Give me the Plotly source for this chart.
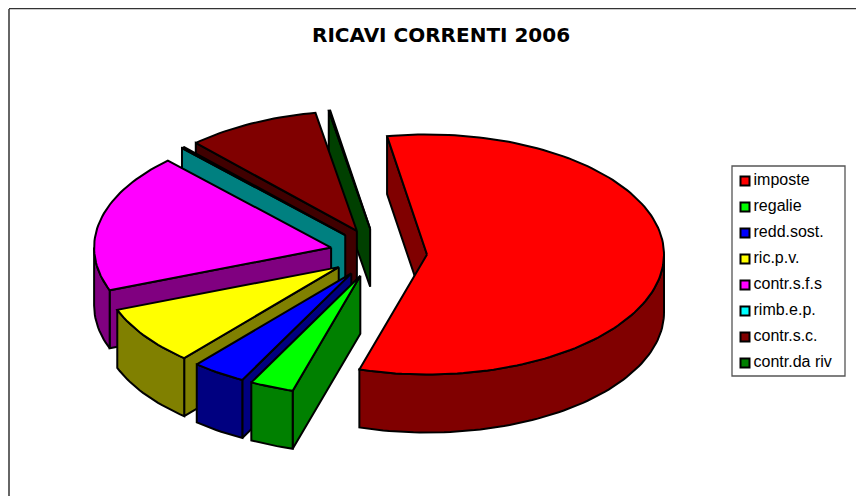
import math
import plotly.graph_objects as go

categories = ["imposte", "regalie", "redd.sost.", "ric.p.v.", "contr.s.f.s", "rimb.e.p.", "contr.s.c.", "contr.da riv"]
values = [57.3, 3.0, 3.7, 7.9, 18.7, 0.2, 9.1, 0.1]
top_colors = ["#ff0000", "#00ff00", "#0000ff", "#ffff00", "#ff00ff", "#008080", "#800000", "#004000"]
wall_colors = ["#800000", "#008000", "#000080", "#808000", "#800080", "#008080", "#400000", "#004000"]
legend_colors = ["#ff0000", "#00ff00", "#0000ff", "#ffff00", "#ff00ff", "#00ffff", "#800000", "#008000"]

CX, CY, RX, RY = 378.5, 253, 237, 120
DEPTH, EXPLODE, FIRST_ANGLE = 58, 0.205, -9.7
PAGE_MARGIN = 8  # the browser's default body margin; axis ranges compensate for it

total = sum(values)


def pt(center, ang, r=1.0, dy=0):
    a = math.radians(ang)
    return (center[0] + r * RX * math.sin(a), center[1] - r * RY * math.cos(a) + dy)


def arc(center, a0, a1, dy=0):
    n = max(2, int(abs(a1 - a0) / 1.5) + 2)
    return [pt(center, a0 + (a1 - a0) * i / (n - 1), dy=dy) for i in range(n)]


slices = []
ang = FIRST_ANGLE
for i, v in enumerate(values):
    span = v / total * 360
    mid = ang + span / 2
    apex = pt((CX, CY), mid, EXPLODE)
    slices.append(dict(i=i, a0=ang, a1=ang + span, apex=apex))
    ang += span

fig = go.Figure()


def poly(points, color, name):
    xs = [p[0] for p in points] + [points[0][0]]
    ys = [p[1] for p in points] + [points[0][1]]
    fig.add_trace(go.Scatter(x=xs, y=ys, mode="lines", fill="toself", fillcolor=color,
                             line=dict(color="black", width=2), name=name,
                             showlegend=False, hoverinfo="name"))


# painter's order: back slices first, the largest slice last
for s in sorted(slices, key=lambda q: (q["i"] == 0, -q["i"])):
    i, a0, a1, apex = s["i"], s["a0"], s["a1"], s["apex"]
    name = categories[i]
    # cut wall along the first edge of the slice
    e0 = pt(apex, a0)
    poly([apex, e0, (e0[0], e0[1] + DEPTH), (apex[0], apex[1] + DEPTH)], wall_colors[i], name)
    # rim wall on the near half of the ellipse
    lo, hi = max(a0, 90), min(a1, 270)
    if hi > lo:
        poly(arc(apex, lo, hi) + arc(apex, hi, lo, dy=DEPTH), wall_colors[i], name)
    # top face
    poly([apex] + arc(apex, a0, a1), top_colors[i], name)

legend_y = [181 + 26 * k for k in range(len(categories))]
fig.add_trace(go.Scatter(
    x=[745] * len(categories), y=legend_y, mode="markers",
    marker=dict(symbol="square", size=9, color=legend_colors, line=dict(color="black", width=2)),
    showlegend=False, hoverinfo="skip"))
fig.add_trace(go.Scatter(
    x=[753.5] * len(categories), y=legend_y, mode="text",
    text=categories, textposition="middle right",
    textfont=dict(family="Liberation Sans", size=16, color="black"),
    showlegend=False, hoverinfo="text"))

axis = dict(visible=False, fixedrange=True)
fig.update_layout(
    width=864, height=496,
    margin=dict(l=0, r=0, t=0, b=0),
    paper_bgcolor="white", plot_bgcolor="white",
    showlegend=False,
    xaxis=dict(range=[PAGE_MARGIN, 864 + PAGE_MARGIN], **axis),
    yaxis=dict(range=[496 + PAGE_MARGIN, PAGE_MARGIN], **axis),
    shapes=[
        dict(type="line", x0=9, x1=9, y0=9, y1=504, line=dict(color="#333333", width=1.5)),
        dict(type="line", x0=9, x1=872, y0=8.5, y1=8.5, line=dict(color="#333333", width=1.5)),
        dict(type="rect", x0=732, x1=845, y0=166, y1=376, line=dict(color="#555555", width=1.3)),
    ],
    annotations=[dict(x=441, y=35, xref="x", yref="y", showarrow=False,
                      text="<b>RICAVI CORRENTI 2006</b>",
                      font=dict(family="DejaVu Sans", size=20, color="black"))],
)
fig.write_html("out.html")
